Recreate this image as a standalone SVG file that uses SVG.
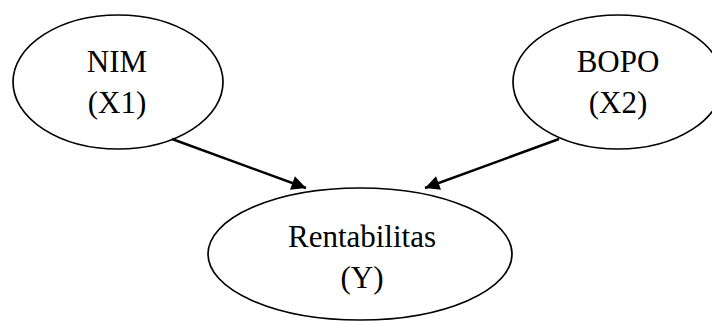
<svg xmlns="http://www.w3.org/2000/svg" width="712" height="322" viewBox="0 0 712 322">
<style>
.n{fill:#fff;stroke:#000;stroke-width:1.7}
.t{font-family:"Liberation Serif","Times New Roman",serif;font-size:31px;fill:#000;text-anchor:middle}
.c{stroke:#000;stroke-width:2.4;fill:none}
</style>
<defs>
<marker id="ah" viewBox="0 0 10 10" refX="10" refY="5" markerWidth="7" markerHeight="6" markerUnits="strokeWidth" orient="auto">
<path d="M0,0 L10,5 L0,10 z" fill="#000"/>
</marker>
</defs>
<rect width="712" height="322" fill="#fff"/>
<g id="nim">
<ellipse class="n" cx="118" cy="82" rx="105" ry="67"/>
<text class="t" x="117" y="72">NIM</text>
<text class="t" x="117" y="113">(X1)</text>
</g>
<g id="bopo">
<ellipse class="n" cx="618" cy="82" rx="105" ry="67"/>
<text class="t" x="618" y="72">BOPO</text>
<text class="t" x="618" y="113">(X2)</text>
</g>
<g id="rentabilitas">
<ellipse class="n" cx="360" cy="254" rx="152" ry="66"/>
<text class="t" x="362" y="247">Rentabilitas</text>
<text class="t" x="362" y="288">(Y)</text>
</g>
<g id="connectors">
<line class="c" x1="172" y1="139" x2="306" y2="188" marker-end="url(#ah)"/>
<line class="c" x1="559" y1="139" x2="425" y2="188" marker-end="url(#ah)"/>
</g>
</svg>
